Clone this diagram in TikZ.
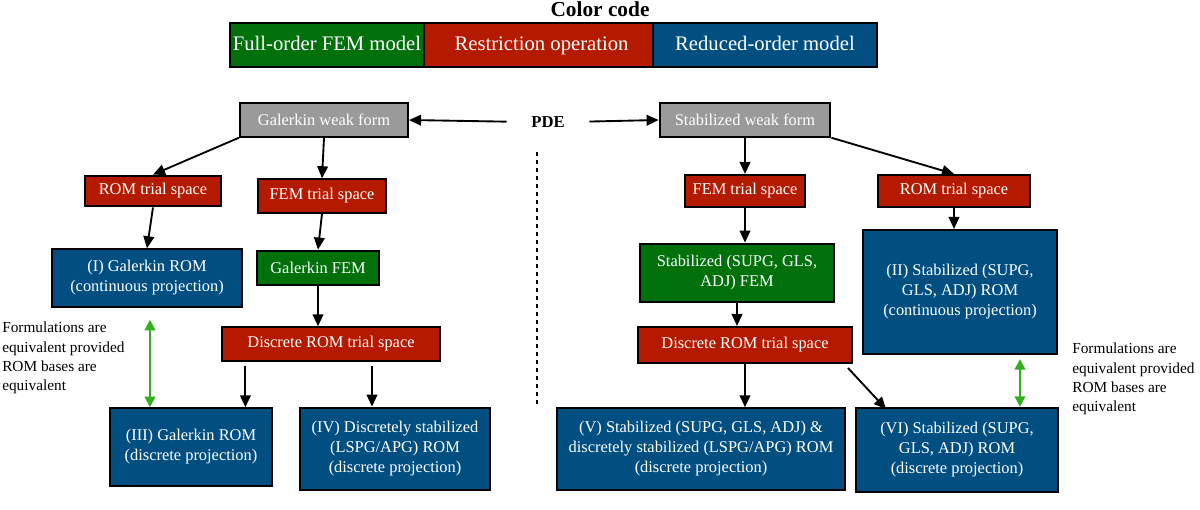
\documentclass[tikz,border=0pt]{standalone}
\usepackage{fontspec}
\setmainfont{Liberation Serif}
\usetikzlibrary{arrows.meta}
\definecolor{cg}{HTML}{00700A}
\definecolor{cr}{HTML}{B41A00}
\definecolor{cb}{HTML}{004F80}
\definecolor{cgr}{HTML}{9A9A9A}
\definecolor{cga}{HTML}{33B020}
\begin{document}
\begin{tikzpicture}[x=0.75pt,y=-0.75pt,
 box/.style={draw=black,line width=1.6pt,text=white,font=\fontsize{12.3}{15}\selectfont,align=center,inner sep=0pt},
 lgd/.style={box,font=\fontsize{15.5}{18}\selectfont,text height=11pt,text depth=3pt},
 arr/.style={-{Triangle[length=9pt,width=8pt]},line width=1.4pt},
 garr/.style={{Triangle[length=8pt,width=8pt]}-{Triangle[length=8pt,width=8pt]},line width=1.5pt,cga},
 note/.style={font=\fontsize{11.5}{14.5}\selectfont,align=left,anchor=north west,inner sep=0pt}]
\useasboundingbox (0,0) rectangle (1200,510);
\node[font=\bfseries\fontsize{16}{19}\selectfont] (title) at (600,9) {Color code};
\node[lgd,fill=cg,minimum width=146pt,minimum height=33pt] (lg) at (327,45) {Full-order FEM model};
\node[lgd,fill=cr,minimum width=176pt,minimum height=33pt] (lr) at (541.5,45) {Restriction operation};
\node[lgd,fill=cb,minimum width=168pt,minimum height=33pt] (lb) at (765,45) {Reduced-order model};
\node[font=\bfseries\fontsize{12.5}{15}\selectfont] (pde) at (548,122) {PDE};
\node[box,fill=cgr,minimum width=126pt,minimum height=25pt] (gw) at (324,120) {Galerkin weak form};
\node[box,fill=cgr,minimum width=128pt,minimum height=25pt] (sw) at (745,120) {Stabilized weak form};
\draw[line width=1.4pt,dash pattern=on 3pt off 3pt] (537,152) -- (537,405);
% left
\node[box,fill=cr,minimum width=102pt,minimum height=23pt] (rt1) at (153,191) {ROM trial space};
\node[box,fill=cr,minimum width=96pt,minimum height=25pt] (ft1) at (322,196) {FEM trial space};
\node[box,fill=cb,minimum width=142pt,minimum height=43pt] (r1) at (147,278) {(I) Galerkin ROM\\(continuous projection)};
\node[box,fill=cg,minimum width=91pt,minimum height=26pt] (gf) at (318,268) {Galerkin FEM};
\node[box,fill=cr,minimum width=163pt,minimum height=25pt] (dr1) at (331,344) {Discrete ROM trial space};
\node[box,fill=cb,minimum width=122pt,minimum height=58pt] (r3) at (191,447) {(III) Galerkin ROM\\(discrete projection)};
\node[box,fill=cb,minimum width=143pt,minimum height=62pt] (r4) at (395,449) {(IV) Discretely stabilized\\(LSPG/APG) ROM\\(discrete projection)};
\node[note] (n1) at (2,322) {Formulations are\\equivalent provided\\ROM bases are\\equivalent};
% right
\node[box,fill=cr,minimum width=90pt,minimum height=24pt] (ft2) at (745,191) {FEM trial space};
\node[box,fill=cr,minimum width=114pt,minimum height=24pt] (rt2) at (954,191) {ROM trial space};
\node[box,fill=cg,minimum width=146pt,minimum height=44pt] (sf) at (737,273) {Stabilized (SUPG, GLS,\\ADJ) FEM};
\node[box,fill=cr,minimum width=161pt,minimum height=27pt] (dr2) at (745,345) {Discrete ROM trial space};
\node[box,fill=cb,minimum width=146pt,minimum height=93pt] (r2) at (960,292) {(II) Stabilized (SUPG,\\GLS, ADJ) ROM\\(continuous projection)};
\node[box,fill=cb,minimum width=216pt,minimum height=61pt] (r5) at (701,449) {(V) Stabilized (SUPG, GLS, ADJ) \&\\discretely stabilized (LSPG/APG) ROM\\(discrete projection)};
\node[box,fill=cb,minimum width=152pt,minimum height=63pt] (r6) at (957,450) {(VI) Stabilized (SUPG,\\GLS, ADJ) ROM\\(discrete projection)};
\node[note] (n2) at (1072,343) {Formulations are\\equivalent provided\\ROM bases are\\equivalent};
% arrows
\draw[arr,shorten <=15pt] (pde.west) -- (gw.east);
\draw[arr,shorten <=15pt] (pde.east) -- (sw.west);
\draw[arr] (gw.south west) -- (rt1.north);
\draw[arr] (gw.south) -- (ft1.north);
\draw[arr] (rt1.south) -- (r1.north);
\draw[arr] (ft1.south) -- (gf.north);
\draw[arr] (gf.south) -- (dr1.north -| gf.south);
\draw[arr] (dr1.south -| r3.north east) ++(-28,4) coordinate (a1) -- (a1 |- r3.north);
\draw[arr] (dr1.south) ++(41,4) coordinate (a2) -- (a2 |- r4.north);
\draw[garr] (r1.south) ++(3,12) coordinate (g1) -- (g1 |- r3.north);
\draw[arr] (sw.south) -- (ft2.north);
\draw[arr] (sw.south east) -- (rt2.north);
\draw[arr] (ft2.south) -- (sf.north -| ft2.south);
\draw[arr] (rt2.south) -- (r2.north -| rt2.south);
\draw[arr] (sf.south) -- (dr2.north -| sf.south);
\draw[arr] (dr2.south) -- (r5.north -| dr2.south);
\coordinate (a3) at (848,368);
\coordinate (a4) at (886,409);
\draw[arr] (a3) -- (a4);
\draw[garr] (r2.south) ++(60,4) coordinate (g2) -- (g2 |- r6.north);
\end{tikzpicture}
\end{document}
